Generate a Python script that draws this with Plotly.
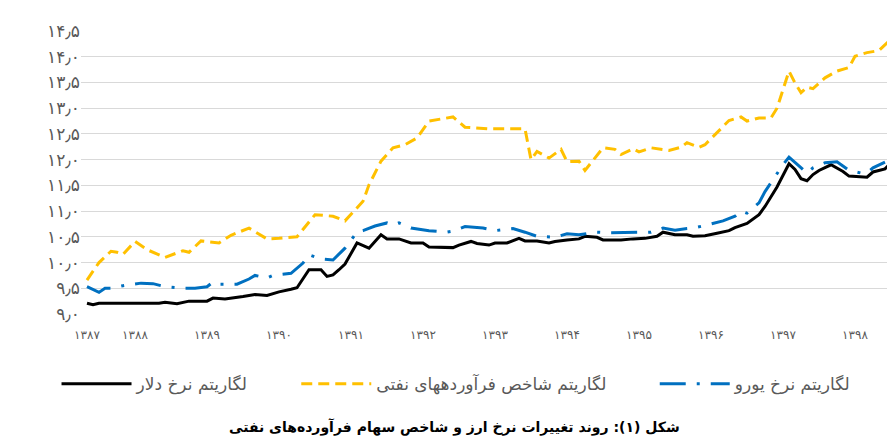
import plotly.graph_objects as go

# ---- data (x = month index from the start of the series) ----
dollar_x = [0, 1, 2, 12, 13, 15, 17, 20, 21, 23, 26, 28, 30, 32, 34, 35, 37, 39, 40, 41, 42, 43, 45, 46, 47, 49,
            50, 52, 54, 56, 57, 61, 62, 64, 65, 67, 68, 70, 72, 73, 75, 77, 78, 80, 82, 83, 85, 86, 89, 91, 93,
            95, 96, 98, 100, 101, 103, 105, 107, 108, 110, 112, 113, 115, 116, 117, 118, 119, 120, 121, 122, 124,
            126, 127, 130, 131, 133, 134]
dollar_y = [9.21, 9.18, 9.21, 9.21, 9.23, 9.20, 9.25, 9.25, 9.31, 9.29, 9.34, 9.38, 9.36, 9.43, 9.48, 9.51, 9.86,
            9.86, 9.73, 9.76, 9.86, 9.97, 10.38, 10.33, 10.28, 10.54, 10.46, 10.46, 10.38, 10.38, 10.30, 10.29,
            10.34, 10.41, 10.37, 10.34, 10.38, 10.38, 10.47, 10.42, 10.42, 10.38, 10.41, 10.44, 10.46, 10.51,
            10.49, 10.44, 10.44, 10.46, 10.47, 10.51, 10.59, 10.54, 10.54, 10.51, 10.52, 10.57, 10.62, 10.68,
            10.76, 10.93, 11.09, 11.47, 11.71, 11.92, 11.81, 11.63, 11.59, 11.71, 11.79, 11.90, 11.77, 11.68,
            11.66, 11.76, 11.82, 11.94]

euro_x = [0, 2, 3, 4, 6, 9, 11, 13, 16, 18, 20, 21, 22, 25, 27, 28, 30, 31, 34, 36, 37, 39, 41, 43, 45, 46, 48,
          50, 51, 52, 54, 57, 60, 61, 63, 66, 68, 71, 73, 75, 78, 80, 82, 85, 87, 91, 94, 96, 98, 100, 101, 103,
          106, 108, 109, 110, 112, 113, 115, 116, 117, 119, 120, 121, 123, 125, 127, 129, 130, 131, 133]
euro_y = [9.53, 9.42, 9.50, 9.50, 9.55, 9.60, 9.59, 9.53, 9.50, 9.50, 9.53, 9.62, 9.58, 9.58, 9.68, 9.75, 9.70,
          9.75, 9.79, 9.99, 10.15, 10.07, 10.05, 10.28, 10.59, 10.62, 10.71, 10.77, 10.73, 10.77, 10.67, 10.62,
          10.59, 10.61, 10.70, 10.67, 10.62, 10.66, 10.59, 10.51, 10.49, 10.56, 10.54, 10.59, 10.58, 10.58,
          10.59, 10.67, 10.63, 10.66, 10.67, 10.72, 10.81, 10.90, 11.00, 10.96, 11.16, 11.38, 11.74, 11.90,
          12.05, 11.84, 11.74, 11.84, 11.94, 11.96, 11.79, 11.74, 11.74, 11.84, 11.95]

oil_x = [0, 2, 4, 5, 6, 8, 10, 12, 13, 16, 17, 19, 22, 24, 27, 30, 32, 35, 38, 41, 43, 46, 47, 49, 51, 53, 55,
         57, 61, 63, 67, 73, 74, 75, 77, 79, 80, 82, 83, 86, 88, 89, 91, 92, 94, 97, 99, 100, 102, 103, 105, 107,
         109, 110, 112, 114, 115, 117, 118, 119, 120, 121, 123, 125, 127, 128, 130, 132, 134]
oil_y = [9.66, 10.00, 10.22, 10.20, 10.16, 10.41, 10.25, 10.15, 10.10, 10.23, 10.20, 10.42, 10.38, 10.53, 10.67,
         10.46, 10.47, 10.50, 10.93, 10.90, 10.81, 11.19, 11.51, 11.97, 12.23, 12.29, 12.42, 12.75, 12.83,
         12.63, 12.60, 12.60, 12.00, 12.16, 12.03, 12.20, 11.96, 11.97, 11.79, 12.23, 12.20, 12.10, 12.21,
         12.15, 12.23, 12.18, 12.24, 12.33, 12.24, 12.29, 12.52, 12.76, 12.83, 12.75, 12.81, 12.81, 13.00,
         13.72, 13.49, 13.30, 13.41, 13.38, 13.59, 13.72, 13.79, 14.01, 14.08, 14.12, 14.34]

year_tick_pos = [0, 8, 20, 32, 44, 56, 68, 80, 92, 104, 116, 128]
year_labels = ["۱۳۸۷", "۱۳۸۸", "۱۳۸۹", "۱۳۹۰", "۱۳۹۱", "۱۳۹۲", "۱۳۹۳", "۱۳۹۴", "۱۳۹۵", "۱۳۹۶", "۱۳۹۷", "۱۳۹۸"]

y_ticks = [9.0, 9.5, 10.0, 10.5, 11.0, 11.5, 12.0, 12.5, 13.0, 13.5, 14.0, 14.5]
y_labels = ["۹٫۰", "۹٫۵", "۱۰٫۰", "۱۰٫۵", "۱۱٫۰", "۱۱٫۵", "۱۲٫۰", "۱۲٫۵", "۱۳٫۰", "۱۳٫۵", "۱۴٫۰", "۱۴٫۵"]

names = ["لگاریتم نرخ دلار", "لگاریتم شاخص فرآوردههای نفتی", "لگاریتم نرخ یورو"]
title_text = "شکل (۱): روند تغییرات نرخ ارز و شاخص سهام فرآورده‌های نفتی"

FONT = "DejaVu Sans"
PAD = "\u00a0" * 8  # extra space after each legend entry

fig = go.Figure()
fig.add_trace(go.Scatter(x=dollar_x, y=dollar_y, mode="lines", name=names[0] + PAD,
                         line=dict(color="#000000", width=3)))
fig.add_trace(go.Scatter(x=oil_x, y=oil_y, mode="lines", name=names[1] + PAD,
                         line=dict(color="#FFC000", width=3, dash="11px,6px")))
fig.add_trace(go.Scatter(x=euro_x, y=euro_y, mode="lines", name=names[2],
                         line=dict(color="#0070C0", width=3, dash="26px,11px,3px,11px")))

fig.update_layout(
    width=895, height=443,
    margin=dict(l=73, r=6, t=23, b=137),
    paper_bgcolor="white", plot_bgcolor="white",
    font=dict(family=FONT, color="#595959"),
    showlegend=True,
    legend=dict(orientation="h", x=-0.03, xanchor="left", y=-0.248, yanchor="middle",
                font=dict(size=17, color="#595959", family=FONT), itemwidth=70,
                traceorder="normal", bgcolor="rgba(0,0,0,0)"),
    xaxis=dict(range=[-1, 135], tickmode="array", tickvals=year_tick_pos, ticktext=year_labels,
               showgrid=False, zeroline=False, showline=False, ticks="",
               tickfont=dict(size=12, color="#595959", family=FONT), ticklabelstandoff=12),
    yaxis=dict(range=[9.0, 14.5], tickmode="array", tickvals=y_ticks, ticktext=y_labels,
               showgrid=True, gridcolor="#D9D9D9", gridwidth=1, zeroline=False, showline=False,
               ticks="", tickfont=dict(size=17, color="#595959", family=FONT), ticklabelstandoff=0),
    annotations=[dict(text="<b>" + title_text + "</b>", xref="paper", yref="paper", x=0.458, y=-0.4,
                      xanchor="center", yanchor="middle", showarrow=False,
                      font=dict(size=14, color="#000000", family=FONT))],
)

fig.write_html("out.html")
